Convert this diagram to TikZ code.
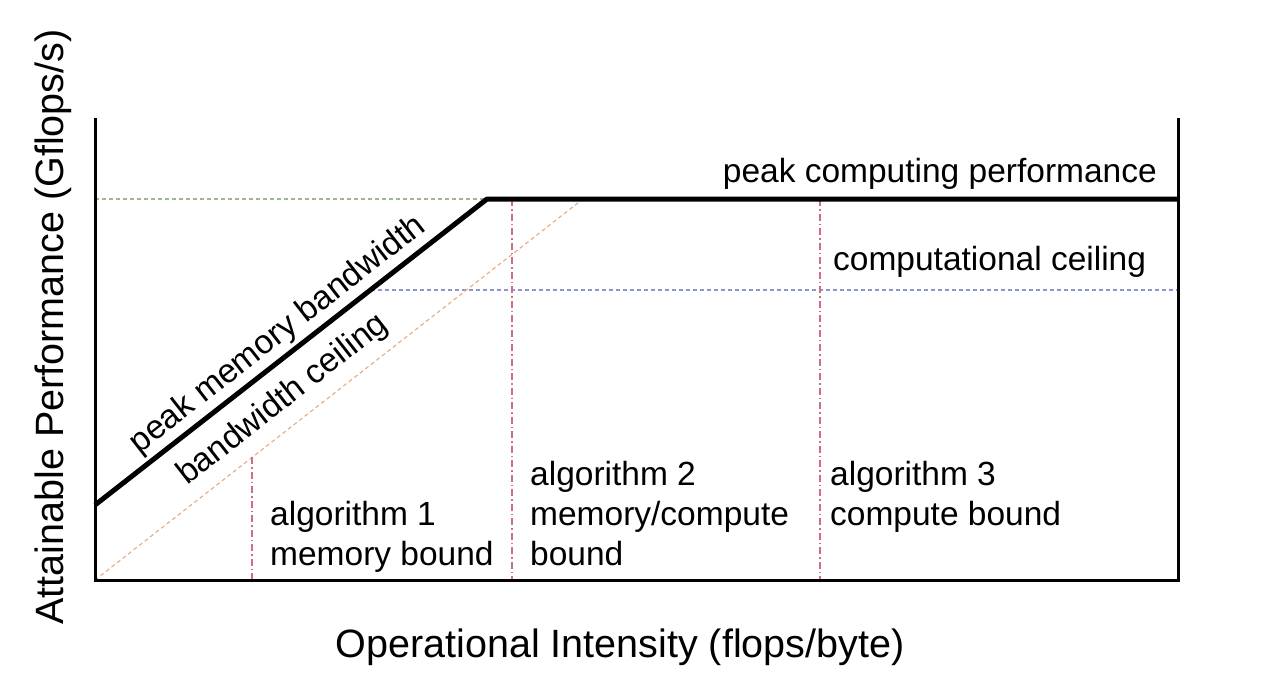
\documentclass[tikz,border=0pt]{standalone}
\usepackage{fontspec}
\setmainfont{Liberation Sans}
\definecolor{gdash}{RGB}{160,185,140}
\definecolor{bdash}{RGB}{140,150,200}
\definecolor{odash}{RGB}{230,170,130}
\definecolor{rdash}{RGB}{205,110,130}
\tikzset{
  roof/.style={line width=5pt, line join=round},
  axisline/.style={line width=3pt},
  guide/.style={line width=1.1pt, dash pattern=on 4pt off 3pt},
  marker/.style={line width=1.1pt, dash pattern=on 7pt off 3pt on 1.5pt off 3pt, color=rdash},
  lbl/.style={font=\fontsize{33.5}{40}\selectfont, inner sep=0pt, anchor=base west},
  axlbl/.style={font=\fontsize{39.5}{46}\selectfont, inner sep=0pt, anchor=base},
}
\begin{document}
\begin{tikzpicture}[x=1pt, y=-1pt]
\useasboundingbox (0,0) rectangle (1271,672);
% coordinates
\coordinate (O) at (95,580);
\coordinate (Ytop) at (95,118);
\coordinate (Xend) at (1178,580);
\coordinate (Rtop) at (1178,118);
\coordinate (R0) at (95,505);
\coordinate (Knee) at (487,199);
\coordinate (Rend) at (1178,199);
\coordinate (G0) at (95,199);
\coordinate (B0) at (370.5,290);
\coordinate (B1) at (1178,290);
\coordinate (C1) at (583,199);
\coordinate (M1a) at (252,457);
\coordinate (M1b) at (252,580);
\coordinate (M2a) at (512,199);
\coordinate (M2b) at (512,580);
\coordinate (M3a) at (820,199);
\coordinate (M3b) at (820,580);
% guide lines
\draw[guide, gdash] (G0) -- (Knee);
\draw[guide, bdash] (B0) -- (B1);
\draw[guide, odash] (O) -- (C1);
\draw[marker] (M1a) -- (M1b);
\draw[marker] (M2a) -- (M2b);
\draw[marker] (M3a) -- (M3b);
% axes
\draw[axisline] (Ytop) -- (O) -- (Xend) -- (Rtop);
% roofline
\draw[roof] (R0) -- (Knee) -- (Rend);
% labels
\node[lbl, anchor=base east] (peak) at (1157,182) {peak computing performance};
\node[lbl] (ceil) at (833,270) {computational ceiling};
\node[font=\fontsize{33.5}{40}\selectfont, inner sep=0pt, rotate=38] (pmb) at (278,335) {peak memory bandwidth};
\node[font=\fontsize{33.5}{40}\selectfont, inner sep=0pt, rotate=38] (bwc) at (283,400) {bandwidth ceiling};
\node[lbl] (a1a) at (270,525) {algorithm 1};
\node[lbl] (a1b) at (270,565) {memory bound};
\node[lbl] (a2a) at (530,485) {algorithm 2};
\node[lbl] (a2b) at (530,525) {memory/compute};
\node[lbl] (a2c) at (530,565) {bound};
\node[lbl] (a3a) at (830,485) {algorithm 3};
\node[lbl] (a3b) at (830,525) {compute bound};
\node[axlbl] (xl) at (620,657) {Operational Intensity (flops/byte)};
\node[axlbl, rotate=90] (yl) at (63,327) {Attainable Performance (Gflops/s)};
\end{tikzpicture}
\end{document}
